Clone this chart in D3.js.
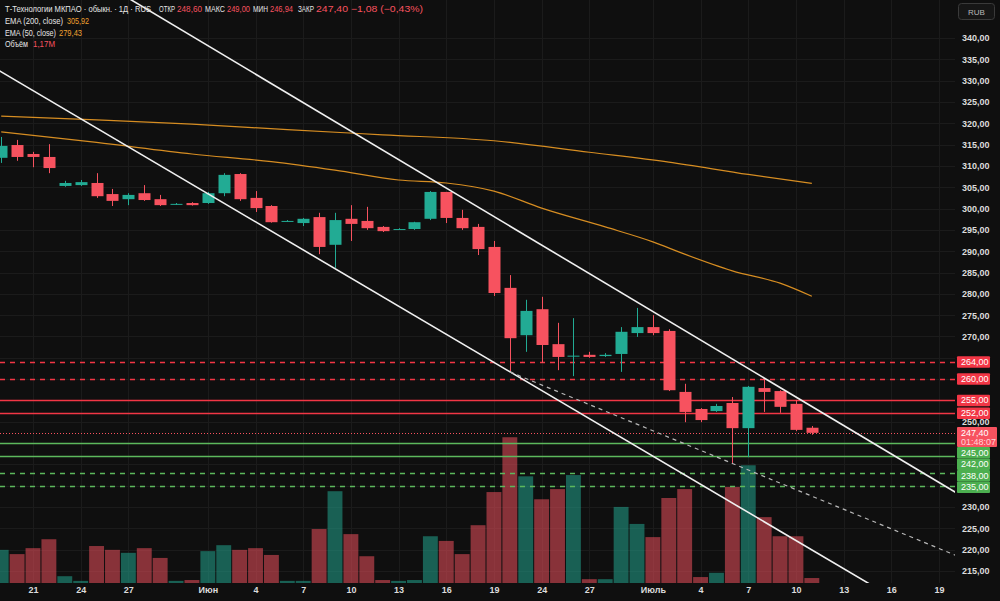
<!DOCTYPE html>
<html>
<head>
<meta charset="utf-8">
<script src="https://cdn.jsdelivr.net/npm/d3@7"></script>
<style>
  body { margin: 0; background: #0f0f0f; }
  svg { display: block; font-family: "Liberation Sans", Arial, sans-serif; }
</style>
</head>
<body>
<svg id="chart" width="1000" height="601"></svg>
<script>
// bar index: 0 = 21 May, daily bars (weekends included)
let bars = d3.range(-2, 50);
let open = [311.9, 314.9, 312.8, 312.1, 305.3, 305.5, 306.0, 303.4, 302.2, 303.6,
  302.2, 301.0, 301.3, 301.3, 303.6, 308.1, 302.5, 300.6, 297.0, 296.6,
  298.0, 291.5, 297.6, 297.1, 295.7, 295.1, 295.2, 297.6, 303.9, 297.8,
  295.7, 291.0, 281.4, 270.3, 276.4, 268.2, 265.3, 265.7, 265.4, 265.9,
  270.8, 272.2, 271.3, 257.0, 253.0, 252.5, 254.4, 248.5, 257.9, 257.2,
  254.2, 248.6];
let high = [316.8, 316.1, 313.3, 315.1, 306.5, 306.7, 308.3, 304.6, 303.6, 305.5,
  303.2, 301.3, 301.5, 303.9, 308.3, 308.3, 304.1, 300.8, 297.3, 297.8,
  299.0, 299.0, 300.8, 300.4, 295.9, 295.4, 296.9, 304.1, 303.9, 299.7,
  296.4, 292.4, 284.4, 278.6, 279.3, 273.2, 274.3, 266.4, 266.1, 272.2,
  276.7, 275.0, 271.7, 258.9, 253.2, 254.2, 255.8, 258.4, 260.0, 257.4,
  255.1, 249.0];
let low = [310.7, 311.2, 309.7, 308.3, 305.1, 305.3, 302.5, 300.6, 300.8, 301.8,
  300.6, 300.9, 300.7, 301.1, 302.9, 301.8, 299.2, 296.7, 296.9, 295.9,
  289.3, 286.1, 292.4, 295.0, 294.5, 295.0, 295.0, 297.3, 296.6, 295.0,
  289.1, 279.5, 261.7, 266.4, 263.8, 262.1, 260.7, 265.0, 265.2, 261.7,
  269.9, 270.3, 257.2, 249.9, 249.9, 252.3, 240.3, 241.7, 252.3, 252.1,
  247.8, 246.94];
let close = [314.7, 312.1, 312.1, 309.5, 306.0, 306.2, 302.9, 301.8, 303.2, 302.0,
  300.8, 301.1, 300.8, 303.6, 307.9, 302.2, 300.1, 296.8, 297.1, 297.6,
  291.0, 297.3, 296.4, 295.4, 294.7, 295.2, 296.8, 303.9, 297.8, 295.4,
  290.5, 280.2, 269.6, 276.0, 268.0, 265.2, 265.5, 265.2, 265.7, 271.1,
  272.2, 270.8, 257.4, 252.3, 250.4, 253.7, 248.5, 258.2, 257.0, 253.5,
  248.1, 247.4];
// volume, millions
let volume = [7.8, 6.8, 8.2, 10.3, 1.6, 0.5, 8.7, 7.8, 7.1, 8.2,
  5.9, 0.5, 0.7, 7.5, 8.9, 7.8, 8.2, 6.6, 0.5, 0.5,
  12.7, 21.6, 11.5, 6.3, 0.7, 0.5, 0.7, 11.0, 9.9, 6.8,
  13.6, 21.4, 34.3, 25.1, 19.7, 22.1, 25.4, 0.9, 0.9, 17.9,
  13.9, 10.8, 20.0, 22.1, 1.4, 2.4, 22.6, 27.7, 15.5, 11.0,
  11.0, 1.17];

// EMA values at some bars
let ema200Bars = [-2, 4, 10, 16, 22, 29, 35, 40, 45, 49];
let ema200 = [321.7, 320.8, 319.8, 318.5, 317.3, 315.9, 313.2, 310.9, 308.0, 305.92];
let ema50Bars = [-2, 4, 10, 15, 19, 23, 26, 29, 32, 36, 39, 41, 44, 47, 49];
let ema50 = [318.0, 315.5, 312.8, 311.0, 309.0, 306.7, 306.0, 304.1, 300.1, 295.7, 292.2, 289.3, 285.4, 282.5, 279.43];

// time axis
let tickBars = [0, 3, 6, 11, 14, 17, 20, 23, 26, 29, 32, 35, 39, 42, 45, 48, 51, 54, 57];
let tickText = ["21", "24", "27", "Июн", "4", "7", "10", "13", "16", "19",
  "24", "27", "Июль", "4", "7", "10", "13", "16", "19"];
let priceTicks = d3.range(215, 341, 5);

// horizontal levels
let redDashed = [264, 260];
let redSolid = [255, 252];
let greenSolid = [245, 242];
let greenDashed = [238, 235];
let lastPrice = 247.40;

// drawn trendlines [bar, price]
let upperLine = [[7.05, 347.0], [57.88, 233.8]];
let lowerLine = [[4.22, 318.4], [37.06, 246.2]];
let dashedLine = [[30, 261.7], [58, 218.75]];

// legend rows: [text, colour, x, width]
let legendRows = [
  [["Т-Технологии МКПАО · обыкн. · 1Д · RUS", "w", 5, 146], ["ОТКР", "w", 159, 16], ["248,60", "r", 177, 25],
   ["МАКС", "w", 205, 20], ["249,00", "r", 227, 23], ["МИН", "w", 253, 15], ["246,94", "r", 270, 23],
   ["ЗАКР", "w", 298, 16], ["247,40 −1,08 (−0,43%)", "r", 316, 107]],
  [["EMA (200, close)", "w", 5, 58], ["305,92", "o", 67, 22]],
  [["EMA (50, close)", "w", 5, 51], ["279,43", "o", 59, 23]],
  [["Объём", "w", 5, 23], ["1,17M", "r", 33, 22]]
];
let legendY = [11.5, 24, 35.5, 47];

let upColor = "#22ab94", downColor = "#f7525f";
let paneRight = 955, paneBottom = 583;

let svg = d3.select("#chart");
svg.append("rect").attr("width", 1000).attr("height", 601).attr("fill", "#0f0f0f");

let x = d3.scaleLinear().domain([0, 57]).range([33, 939]);
let y = d3.scaleLinear().domain([215, 340]).range([571, 38]);
let yVol = d3.scaleLinear().domain([0, 40]).range([paneBottom, 413]);
let step = x(1) - x(0);
let fmt = d => d.toFixed(2).replace(".", ",");

svg.append("clipPath").attr("id", "pane")
  .append("rect").attr("width", paneRight).attr("height", paneBottom);

//grid
let grid = svg.append("g").attr("stroke", "#1b1b1b").attr("stroke-width", 1);
grid.selectAll(".hg").data(priceTicks).join("line")
  .attr("x1", 0).attr("x2", paneRight)
  .attr("y1", d => Math.round(y(d)) + 0.5).attr("y2", d => Math.round(y(d)) + 0.5);
grid.selectAll(".vg").data(tickBars).join("line")
  .attr("y1", 0).attr("y2", paneBottom)
  .attr("x1", d => Math.round(x(d)) + 0.5).attr("x2", d => Math.round(x(d)) + 0.5);

let data = bars.map((k, i) => ({k: k, o: open[i], h: high[i], l: low[i], c: close[i], v: volume[i]}));
let plot = svg.append("g").attr("clip-path", "url(#pane)");

// volume
plot.append("g").selectAll("rect").data(data).join("rect")
  .attr("x", d => x(d.k) - step / 2 + 0.5)
  .attr("width", step - 1)
  .attr("y", d => yVol(d.v))
  .attr("height", d => paneBottom - yVol(d.v))
  .attr("fill", d => d.c >= d.o ? upColor : downColor)
  .attr("opacity", 0.52);

// levels
function level(prices, color, dash) {
  plot.append("g").selectAll("line").data(prices).join("line")
    .attr("x1", 0).attr("x2", paneRight)
    .attr("y1", d => Math.round(y(d)) + 0.5).attr("y2", d => Math.round(y(d)) + 0.5)
    .attr("stroke", color).attr("stroke-width", 1.3)
    .attr("stroke-dasharray", dash);
}
level(redDashed, "#f23645", "5,5");
level(redSolid, "#f23645", null);
level(greenSolid, "#5cb85c", null);
level(greenDashed, "#5cb85c", "5,5");
plot.append("line")
  .attr("x1", 0).attr("x2", paneRight)
  .attr("y1", Math.round(y(lastPrice)) + 0.5).attr("y2", Math.round(y(lastPrice)) + 0.5)
  .attr("stroke", downColor).attr("stroke-dasharray", "1,2");

// EMA lines
let emaLine = d3.line().curve(d3.curveMonotoneX).x(d => x(d[0])).y(d => y(d[1]));
plot.append("path").attr("d", emaLine(d3.zip(ema200Bars, ema200)))
  .attr("fill", "none").attr("stroke", "#d68d22").attr("stroke-width", 1.2);
plot.append("path").attr("d", emaLine(d3.zip(ema50Bars, ema50)))
  .attr("fill", "none").attr("stroke", "#d68d22").attr("stroke-width", 1.2);

// candles
let candles = plot.append("g").selectAll("g").data(data).join("g");
candles.append("line")
  .attr("x1", d => Math.round(x(d.k)) + 0.5).attr("x2", d => Math.round(x(d.k)) + 0.5)
  .attr("y1", d => y(d.h)).attr("y2", d => y(d.l))
  .attr("stroke", d => d.c >= d.o ? upColor : downColor);
candles.append("rect")
  .attr("x", d => Math.round(x(d.k)) - 5.5)
  .attr("width", 12)
  .attr("y", d => y(Math.max(d.o, d.c)))
  .attr("height", d => Math.max(1, Math.abs(y(d.o) - y(d.c))))
  .attr("fill", d => d.c >= d.o ? upColor : downColor);

// trendlines, extended across the pane
function extend(p, k0, k1) {
  let s = (p[1][1] - p[0][1]) / (p[1][0] - p[0][0]);
  return [[k0, p[0][1] + s * (k0 - p[0][0])], [k1, p[0][1] + s * (k1 - p[0][0])]];
}
let tl = d3.line().x(d => x(d[0])).y(d => y(d[1]));
plot.append("path").attr("d", tl(extend(upperLine, -5, 62)))
  .attr("stroke", "#f0f0f0").attr("stroke-width", 1.6).attr("fill", "none");
plot.append("path").attr("d", tl(extend(lowerLine, -5, 62)))
  .attr("stroke", "#f0f0f0").attr("stroke-width", 1.6).attr("fill", "none");
plot.append("path").attr("d", tl(extend(dashedLine, 30, 62)))
  .attr("stroke", "#b8b8b8").attr("stroke-width", 1.2).attr("stroke-dasharray", "4,4").attr("fill", "none");

// price labels on the axis, pushed apart like the platform does
let labels = [];
redDashed.concat(redSolid).forEach(p => labels.push({p: p, color: "#f23645", h: 11.5}));
labels.push({p: lastPrice, color: "#f7525f", h: 20, last: true});
greenSolid.concat(greenDashed).forEach(p => labels.push({p: p, color: "#4caf50", h: 11.5}));
labels.sort((a, b) => b.p - a.p);
let bottom = -Infinity;
labels.forEach(d => {
  d.top = y(d.p) - 5.75;
  if (d.top < bottom) d.top = bottom;
  bottom = d.top + d.h;
});

// price axis, ticks hidden under a label box are dropped
let shownTicks = priceTicks.filter(p => !labels.some(d => y(p) >= d.top - 2 && y(p) <= d.top + d.h + 2));
let yAxis = d3.axisRight(y).tickValues(shownTicks).tickFormat(fmt).tickSize(0).tickPadding(7);
let yGroup = svg.append("g").attr("transform", translate(paneRight, 0)).call(yAxis);
yGroup.select(".domain").remove();
yGroup.selectAll("text").attr("fill", "#dcdcdc").attr("font-size", 9).attr("font-weight", "bold")
  .attr("font-family", "Liberation Sans, Arial, sans-serif");

// time axis
let xAxis = d3.axisBottom(x).tickValues(tickBars).tickFormat((d, i) => tickText[i]).tickSize(0).tickPadding(4);
let xGroup = svg.append("g").attr("transform", translate(0, paneBottom)).call(xAxis);
xGroup.select(".domain").remove();
xGroup.selectAll("text").attr("fill", "#dcdcdc").attr("font-size", 9).attr("font-weight", "bold")
  .attr("font-family", "Liberation Sans, Arial, sans-serif");

let lab = svg.append("g").selectAll("g").data(labels).join("g");
lab.append("rect")
  .attr("x", 957).attr("y", d => d.top)
  .attr("width", d => d.last ? 40 : 33).attr("height", d => d.h)
  .attr("rx", 1).attr("fill", d => d.color);
lab.append("text")
  .attr("x", 961).attr("y", d => d.top + 8.8)
  .attr("fill", "#ffffff").attr("font-size", 9)
  .text(d => fmt(d.p));
lab.filter(d => d.last).append("text")
  .attr("x", 961).attr("y", d => d.top + 17.5)
  .attr("fill", "#ffd6d9").attr("font-size", 9)
  .text("01:48:07");

// currency box
svg.append("rect").attr("x", 958.5).attr("y", 3.5).attr("width", 36).attr("height", 16).attr("rx", 3)
  .attr("fill", "#161616").attr("stroke", "#3a3a3a");
svg.append("text").attr("x", 976.5).attr("y", 14.5).attr("text-anchor", "middle")
  .attr("fill", "#b8b8b8").attr("font-size", 8).text("RUB");

// legend, one text per row, segments as tspans
let legendColor = {w: "#e6e6e6", r: downColor, o: "#f0a030"};
let legend = svg.append("g").attr("font-size", 9);
legendRows.forEach((row, i) => {
  let t = legend.append("text").attr("y", legendY[i]);
  row.forEach(s => {
    t.append("tspan")
      .attr("x", s[2])
      .attr("textLength", s[3]).attr("lengthAdjust", "spacingAndGlyphs")
      .attr("fill", legendColor[s[1]])
      .text(s[0]);
  });
});

function translate(x, y) {
  return 'translate(' + x + ',' + y + ')';
}
</script>
</body>
</html>
